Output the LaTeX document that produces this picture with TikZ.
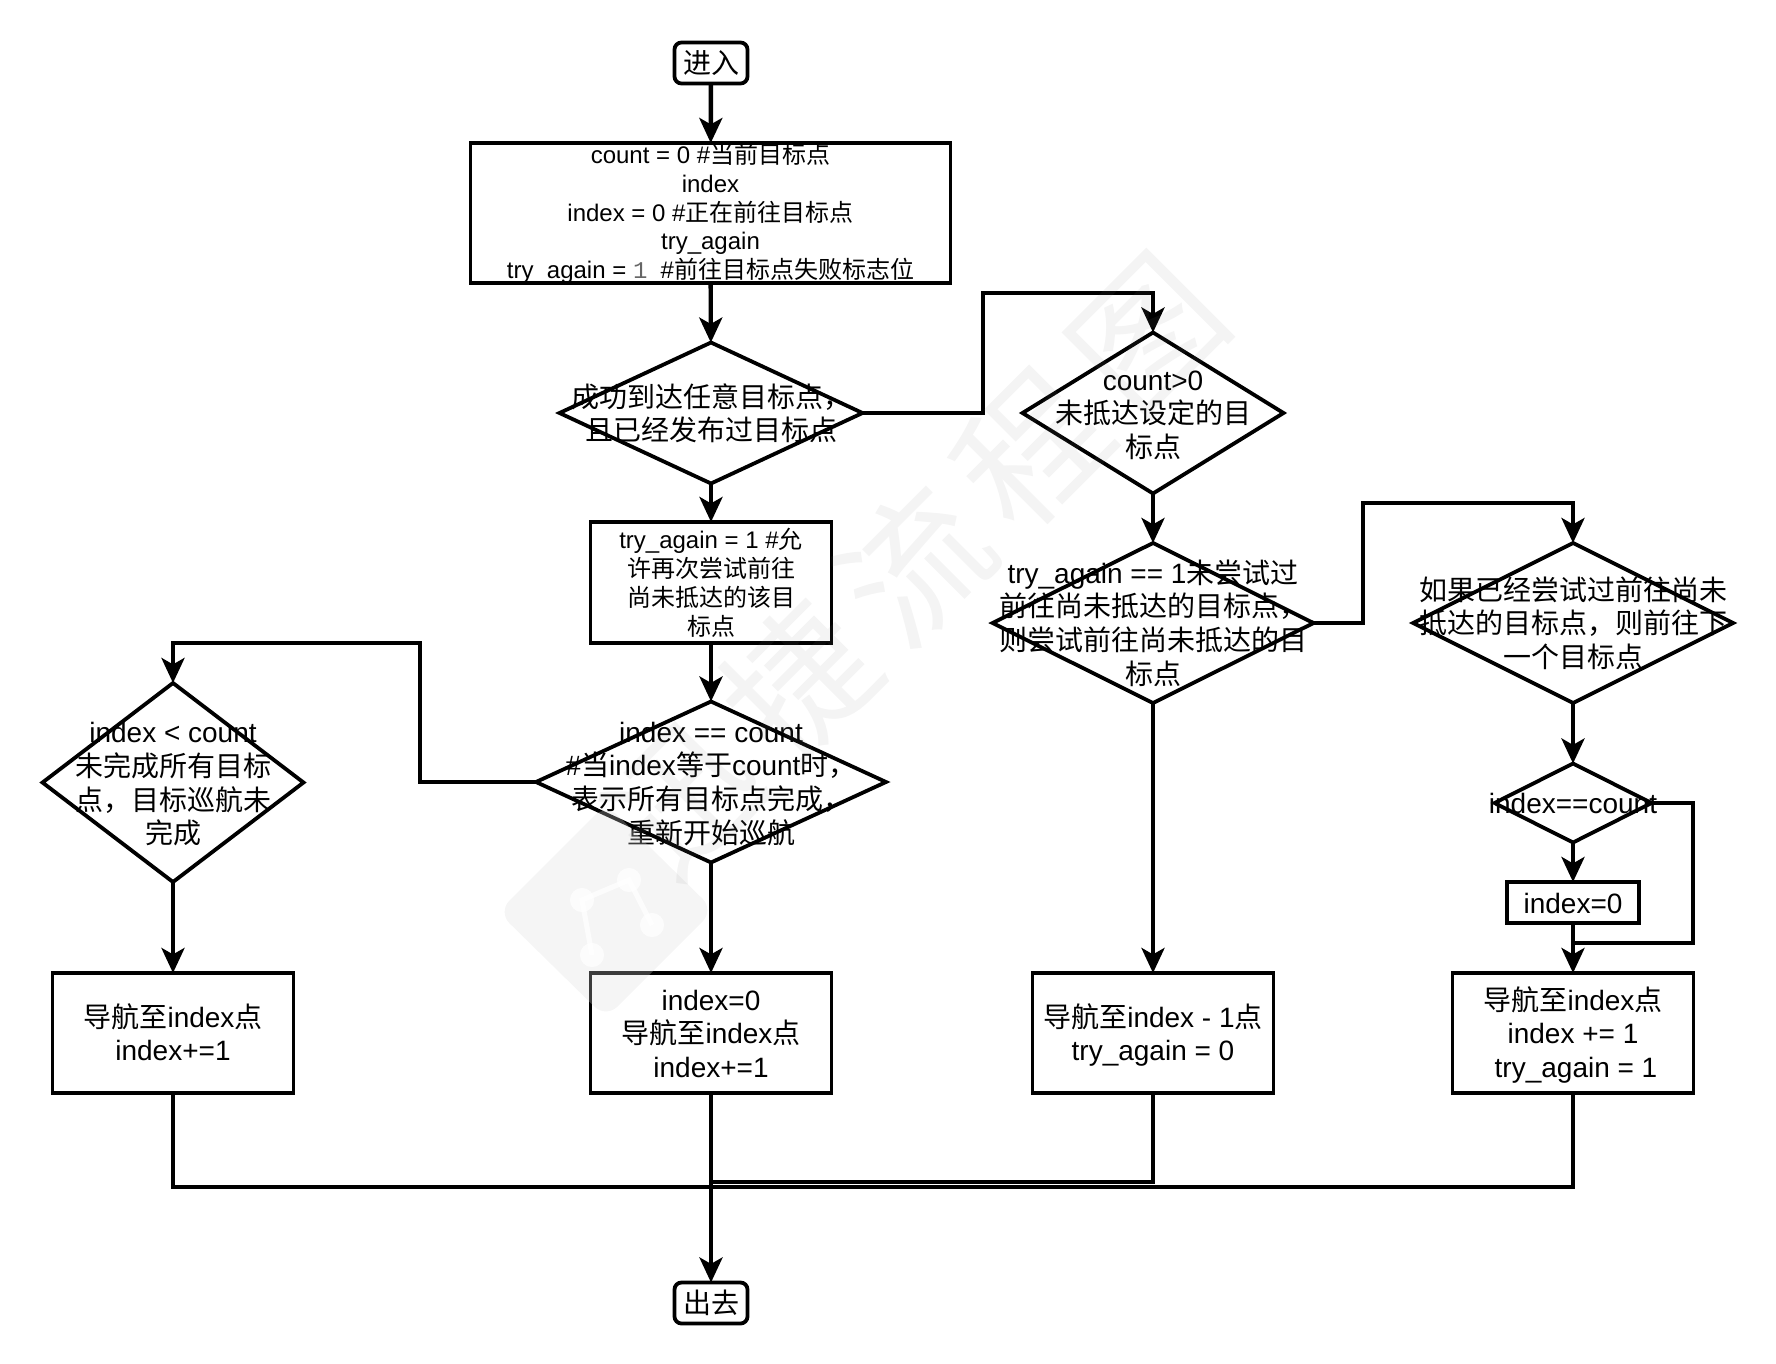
\documentclass[tikz,border=0pt]{standalone}
\usepackage{fontspec}
\setmainfont{Liberation Sans}
\newfontfamily\cjk{Noto Sans CJK SC}
\newfontfamily\monof{Liberation Mono}
\usetikzlibrary{shapes.geometric,arrows.meta}
\newcommand\zh[1]{{\cjk #1}}
\newcommand\bigf{\fontsize{14}{16.7}\selectfont}
\newcommand\smallf{\fontsize{12}{14.4}\selectfont}
\newcommand\txt[1]{\smash{\makebox[0pt]{\raisebox{-0.4em}{\begin{tabular}{@{}c@{}}#1\end{tabular}}}}}
\tikzset{
  boxbase/.style={draw=black,line width=1.9pt,inner sep=0pt,outer sep=0pt,font=\bigf},
  rectbox/.style={boxbase,rectangle,minimum width=#1},
  navbox/.style={rectbox=241,minimum width=120.5pt,minimum height=60pt},
  termbox/.style={boxbase,rectangle,rounded corners=3.5pt,minimum width=36.5pt,minimum height=20.5pt},
  choice/.style n args={2}{boxbase,diamond,minimum width=#1*0.5pt,minimum height=#2*0.5pt},
  flow/.style={draw=black,line width=2.2pt,-{Stealth[length=12.5pt,width=11.5pt,inset=3.2pt]}},
  link/.style={draw=black,line width=2.2pt},
  thinlink/.style={draw=black,line width=1.7pt},
  wm/.style={fill=black!14,draw=none,opacity=.28},
}
\begin{document}
\begin{tikzpicture}[x=0.5pt,y=-0.5pt]
\useasboundingbox (0,0) rectangle (1776,1364);
% nodes
\node[termbox] (enter) at (711,63) {\txt{\zh{进入}}};
\node[boxbase,rectangle,minimum width=240pt,minimum height=70pt,font=\smallf] (init) at (710.5,213)
 {\raisebox{1.2pt}{\txt{count = 0 \#\zh{当前目标点}\\index\\index = 0 \#\zh{正在前往目标点}\\try\_again\\try\_again = {\monof\color{black!60}1}\ \ \#\zh{前往目标点失败标志位}}}};
\node[choice={303}{141}] (reached) at (711,413) {\txt{\zh{成功到达任意目标点，}\\\zh{且已经发布过目标点}}};
\node[boxbase,rectangle,minimum width=120.5pt,minimum height=60.5pt,font=\smallf] (retry) at (711,582.5)
 {\txt{try\_again = 1 \#\zh{允}\\\zh{许再次尝试前往}\\\zh{尚未抵达的该目}\\\zh{标点}}};
\node[choice={350}{161}] (same) at (711,782) {\txt{index == count\\\#\zh{当}index\zh{等于}count\zh{时，}\\\zh{表示所有目标点完成，}\\\zh{重新开始巡航}}};
\node[choice={261}{199}] (less) at (173,782.5) {\txt{index < count\\\zh{未完成所有目标}\\\zh{点，目标巡航未}\\\zh{完成}}};
\node[choice={261}{161}] (pending) at (1153,413) {\txt{count>0\\\zh{未抵达设定的目}\\\zh{标点}}};
\node[choice={321}{160}] (again) at (1153,623) {\txt{try\_again == 1\zh{未尝试过}\\\zh{前往尚未抵达的目标点，}\\\zh{则尝试前往尚未抵达的目}\\\zh{标点}}};
\node[choice={320}{160}] (tried) at (1573,623) {\txt{\zh{如果已经尝试过前往尚未}\\\zh{抵达的目标点，则前往下}\\\zh{一个目标点}}};
\node[choice={157}{79}] (wrap) at (1573,803) {\txt{index==count}};
\node[boxbase,rectangle,minimum width=66pt,minimum height=20.5pt] (zero) at (1573,902.5) {\txt{index=0}};
\node[navbox] (nava) at (173,1033) {\txt{\zh{导航至}index\zh{点}\\index+=1}};
\node[navbox] (navb) at (711,1033) {\txt{index=0\\\zh{导航至}index\zh{点}\\index+=1}};
\node[navbox] (navc) at (1153,1033) {\txt{\zh{导航至}index - 1\zh{点}\\try\_again = 0}};
\node[navbox] (navd) at (1573,1033) {\txt{\zh{导航至}index\zh{点}\\index += 1\hspace{8pt}\\\hspace{3pt}try\_again = 1}};
\node[termbox] (leave) at (711,1303) {\txt{\zh{出去}}};
% free corners
\coordinate (ca) at (983,293);
\coordinate (cb) at (420,643);
\coordinate (cc) at (1363,503);
\coordinate (cd) at (1693,943);
\coordinate (ce) at (711,1187);
\coordinate (cf) at (711,1182);
% connectors
\draw[flow] (enter) -- (init);
\draw[flow] (init) -- (reached);
\draw[flow] (reached) -- (retry);
\draw[flow] (retry) -- (same);
\draw[flow] (same) -- (navb);
\draw[flow] (less) -- (nava);
\draw[flow] (pending) -- (again);
\draw[flow] (again) -- (navc);
\draw[flow] (tried) -- (wrap);
\draw[flow] (wrap) -- (zero);
\draw[flow] (zero) -- (navd);
\draw[flow] (reached.east) -| (ca) -| (pending.north);
\draw[flow] (same.west) -| (cb) -| (less.north);
\draw[flow] (again.east) -| (cc) -| (tried.north);
\draw[link] (wrap.east) -| (cd) -- (cd -| wrap);
\draw[thinlink] (nava.south) |- (ce);
\draw[thinlink] (navd.south) |- (ce);
\draw[link] (navc.south) |- (cf);
\draw[flow] (navb) -- (leave);
% watermark
\fill[wm,rounded corners=8pt] (498,912) -- (606,804) -- (714,910) -- (606,1018) -- cycle;
\foreach \a/\b in {582/900,629/880,652/925,592/955}{\fill[white,opacity=.8] (\a,\b) circle (6pt);}
\draw[white,opacity=.8,line width=2.5pt] (592,955) -- (582,900) -- (629,880) -- (652,925);
\node[opacity=.09,text=black!50,rotate=45,font={\fontsize{72}{72}\selectfont\cjk}] (mark) at (915,565) {迅\hspace{10pt}捷\hspace{10pt}流\hspace{10pt}程\hspace{10pt}图};
\end{tikzpicture}
\end{document}
